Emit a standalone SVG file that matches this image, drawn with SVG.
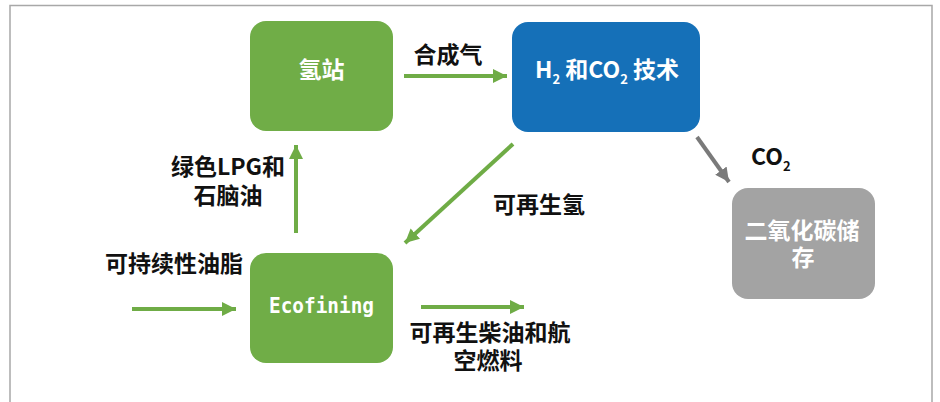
<svg xmlns="http://www.w3.org/2000/svg" width="940" height="402" viewBox="0 0 940 402">
<defs>
<style>
.lbl{font-family:"Noto Sans CJK SC","Liberation Sans",sans-serif;font-weight:bold;fill:#111;font-size:23px}
.wt{font-family:"Noto Sans CJK SC","Liberation Sans",sans-serif;font-weight:bold;fill:#fff;font-size:23px}
.g{stroke:#6fac46;stroke-width:4;fill:none}
.gr{stroke:#7a7a7a;stroke-width:4;fill:none}
</style>
<marker id="ag" markerWidth="14" markerHeight="14" refX="12" refY="6" orient="auto" markerUnits="userSpaceOnUse" viewBox="0 0 12 12">
<path d="M0,0 L12,6 L0,12 Z" fill="#6fac46"/>
</marker>
<marker id="agr" markerWidth="14" markerHeight="14" refX="12" refY="6" orient="auto" markerUnits="userSpaceOnUse" viewBox="0 0 12 12">
<path d="M0,0 L12,6 L0,12 Z" fill="#7a7a7a"/>
</marker>
</defs>
<rect width="940" height="402" fill="#fff"/>
<path d="M10,402 V5.5 H932 V402" fill="none" stroke="#a8a8a8" stroke-width="1.5"/>

<g id="connectors">
<line class="g" x1="404" y1="76" x2="507" y2="76" marker-end="url(#ag)"/>
<line class="g" x1="296" y1="233" x2="296" y2="145" marker-end="url(#ag)"/>
<line class="g" x1="513" y1="144" x2="405" y2="243" marker-end="url(#ag)"/>
<line class="gr" x1="697" y1="137" x2="729" y2="182" marker-end="url(#agr)"/>
<line class="g" x1="132" y1="309" x2="236" y2="309" marker-end="url(#ag)"/>
<line class="g" x1="421" y1="307" x2="524" y2="307" marker-end="url(#ag)"/>
</g>

<g id="labels">
<text class="lbl" x="448" y="63" text-anchor="middle" font-size="22">合成气</text>
<text class="lbl" text-anchor="middle" font-size="21"><tspan x="228" y="175">绿色LPG和</tspan><tspan x="228" y="204">石脑油</tspan></text>
<text class="lbl" x="539" y="213" text-anchor="middle">可再生氢</text>
<text class="lbl" x="174" y="272" text-anchor="middle">可持续性油脂</text>
<text class="lbl" text-anchor="middle"><tspan x="490" y="341">可再生柴油和航</tspan><tspan x="488" y="369">空燃料</tspan></text>
<text class="lbl" x="751" y="165" font-size="19">CO<tspan font-size="13" dy="6">2</tspan></text>
</g>

<g id="node-h2station">
<rect x="250" y="21" width="143" height="110" rx="16" fill="#70ad47"/>
<text class="wt" x="321.5" y="78" text-anchor="middle">氢站</text>
</g>

<g id="node-tech">
<rect x="512" y="22" width="188" height="110" rx="16" fill="#1570b8"/>
<text class="wt" x="535" y="78" font-size="19">H<tspan font-size="13" dy="6">2</tspan><tspan dy="-6"> 和CO</tspan><tspan font-size="13" dy="6">2</tspan><tspan dy="-6">  技术</tspan></text>
</g>

<g id="node-ecofining">
<rect x="250" y="253" width="143" height="110" rx="16" fill="#70ad47"/>
<text x="321.5" y="313" text-anchor="middle" font-family="'DejaVu Sans Mono','Liberation Mono',monospace" font-weight="bold" font-size="22" fill="#fff" textLength="105" lengthAdjust="spacingAndGlyphs">Ecofining</text>
</g>

<g id="node-ccs">
<rect x="732" y="188" width="143" height="111" rx="16" fill="#a3a3a3"/>
<text class="wt" text-anchor="middle"><tspan x="802" y="239">二氧化碳储</tspan><tspan x="803" y="266">存</tspan></text>
</g>
</svg>
